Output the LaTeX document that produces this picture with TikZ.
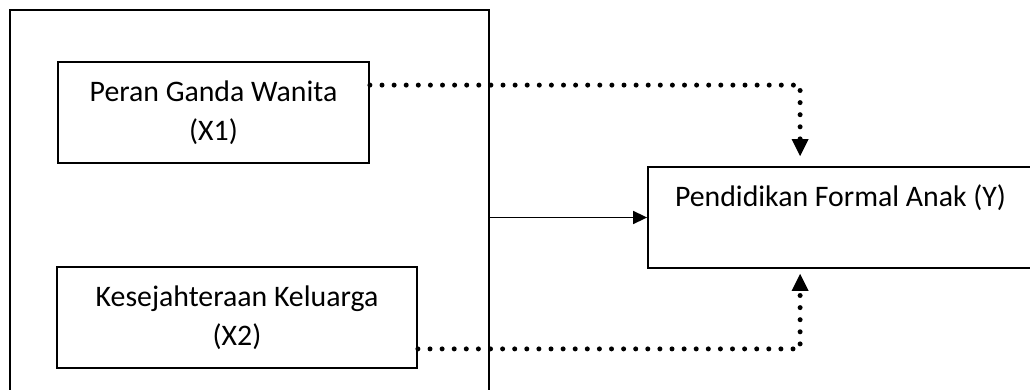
\documentclass[tikz,border=0pt]{standalone}
\usepackage{fontspec}
\setmainfont{Carlito}
\usetikzlibrary{arrows.meta}

\begin{document}
\begin{tikzpicture}[x=1pt, y=1pt,
  box/.style={draw, line width=1.8pt, align=center, inner sep=0pt, minimum height=101pt, font=\fontsize{29.8}{39.5}\selectfont},
  dots/.style={line width=5pt, line cap=round, dash pattern=on 0pt off 12.1pt, -{Triangle[length=17pt, width=17pt, line width=0pt]}}]
  \clip (0,0) rectangle (1030,389);
  \node[draw, line width=2pt, minimum width=479.5pt, minimum height=409pt, inner sep=0pt] (grp) at (249.25,174.5) {};
  \node[box, minimum width=311pt] (x1) at (213.5,276.5) {Peran Ganda Wanita\\(X1)};
  \node[box, minimum width=360pt] (x2) at (237,71.5) {Kesejahteraan Keluarga\\(X2)};
  \node[box, minimum width=392pt, text width=338pt, align=flush left] (y) at (844,171.5) {Pendidikan Formal Anak (Y)\\[-8pt]\strut};
  \draw[line width=1.5pt, -{Triangle[length=14pt, width=13pt]}] (grp.east |- y.west) -- (y.west);
  \draw[dots] ([yshift=-24pt]x1.north east) -| ([shift={(153,10)}]y.north west);
  \draw[dots] ([yshift=20pt]x2.south east) -| ([shift={(153,-5)}]y.south west);
\end{tikzpicture}
\end{document}
